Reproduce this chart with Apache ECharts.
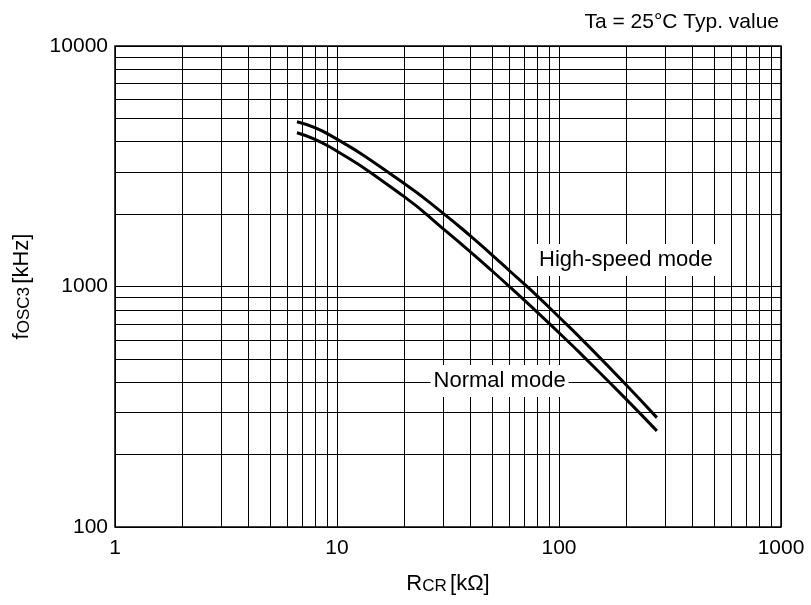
<!DOCTYPE html>
<html>
<head>
<meta charset="utf-8">
<script src="https://cdn.jsdelivr.net/npm/echarts@6/dist/echarts.min.js"></script>
<style>
  html, body { margin: 0; padding: 0; background: #fff; }
  #chart { width: 811px; height: 605px; }
</style>
</head>
<body>
<div id="chart"></div>
<script>
// Oscillation frequency vs. external resistor, log-log
const resistance = [6.6, 9.3, 20, 30, 40, 50, 60, 74, 107, 128, 197, 276];
const highSpeedF = [4840, 4260, 2690, 2020, 1620, 1350, 1160, 975, 703, 597, 397, 285];
const normalF = [4360, 3800, 2370, 1740, 1390, 1160, 997, 834, 605, 515, 346, 251];

const xTicks = [1, 10, 100, 1000];
const yTicks = [100, 1000, 10000];

// minor grid values 2..9 within each decade
function minorValues(lo, hi) {
  const out = [];
  for (let d = lo; d < hi; d *= 10) {
    for (let m = 2; m <= 9; m++) out.push(d * m);
  }
  return out;
}
const xMinor = minorValues(xTicks[0], xTicks[xTicks.length - 1]);
const yMinor = minorValues(yTicks[0], yTicks[yTicks.length - 1]);

const FONT = 'Liberation Sans, Arial, sans-serif';
const fmt = v => String(Math.round(v));

const chart = echarts.init(document.getElementById('chart'), null, { renderer: 'canvas' });

const lineStyle = { color: '#000', width: 3 };
const nameRich = {
  b: { fontFamily: FONT, fontSize: 22, color: '#000' },
  s: { fontFamily: FONT, fontSize: 17, color: '#000', padding: [4, 0, 0, 0] }
};
const modeLabel = text => ({
  show: true, formatter: text, position: 'inside',
  fontFamily: FONT, fontSize: 22, color: '#000',
  backgroundColor: '#fff', padding: [5, 3, 5, 3]
});

chart.setOption({
  animation: false,
  backgroundColor: '#fff',
  title: {
    text: 'Ta = 25°C Typ. value',
    right: 27,
    top: 7,
    textStyle: { fontFamily: FONT, fontSize: 21, fontWeight: 'normal', color: '#000' }
  },
  grid: {
    left: 115, top: 46, width: 666, height: 481,
    show: true, borderColor: '#000', borderWidth: 1.5, backgroundColor: 'transparent'
  },
  xAxis: {
    type: 'log', logBase: 10, min: xTicks[0], max: xTicks[xTicks.length - 1],
    name: '{b|R}{s|CR} {b|[kΩ]}',
    nameLocation: 'middle', nameGap: 46,
    nameTextStyle: { rich: nameRich },
    axisLine: { show: false },
    axisTick: { show: false },
    axisLabel: { formatter: fmt, fontFamily: FONT, fontSize: 21, color: '#000', margin: 11 },
    splitLine: { show: true, lineStyle: { color: '#000', width: 1 } }
  },
  yAxis: {
    type: 'log', logBase: 10, min: yTicks[0], max: yTicks[yTicks.length - 1],
    name: '{b|f}{s|OSC3} {b|[kHz]}',
    nameLocation: 'middle', nameGap: 82, nameRotate: 90,
    nameTextStyle: { rich: nameRich },
    axisLine: { show: false },
    axisTick: { show: false },
    axisLabel: { formatter: fmt, fontFamily: FONT, fontSize: 21, color: '#000', margin: 7 },
    splitLine: { show: true, lineStyle: { color: '#000', width: 1 } }
  },
  series: [
    {
      name: 'High-speed mode',
      type: 'line',
      data: resistance.map((r, i) => [r, highSpeedF[i]]),
      smooth: true,
      symbol: 'none',
      lineStyle: lineStyle,
      z: 5,
      markLine: {
        silent: true, symbol: 'none', animation: false,
        label: { show: false },
        lineStyle: { color: '#000', width: 1, type: 'solid' },
        data: xMinor.map(v => ({ xAxis: v })).concat(yMinor.map(v => ({ yAxis: v })))
      },
      markPoint: {
        symbol: 'rect', symbolSize: 0,
        label: modeLabel('High-speed mode'),
        data: [{ coord: [200, 1290] }]
      }
    },
    {
      name: 'Normal mode',
      type: 'line',
      data: resistance.map((r, i) => [r, normalF[i]]),
      smooth: true,
      symbol: 'none',
      lineStyle: lineStyle,
      z: 5,
      markPoint: {
        symbol: 'rect', symbolSize: 0,
        label: modeLabel('Normal mode'),
        data: [{ coord: [54, 405] }]
      }
    }
  ]
});
</script>
</body>
</html>
